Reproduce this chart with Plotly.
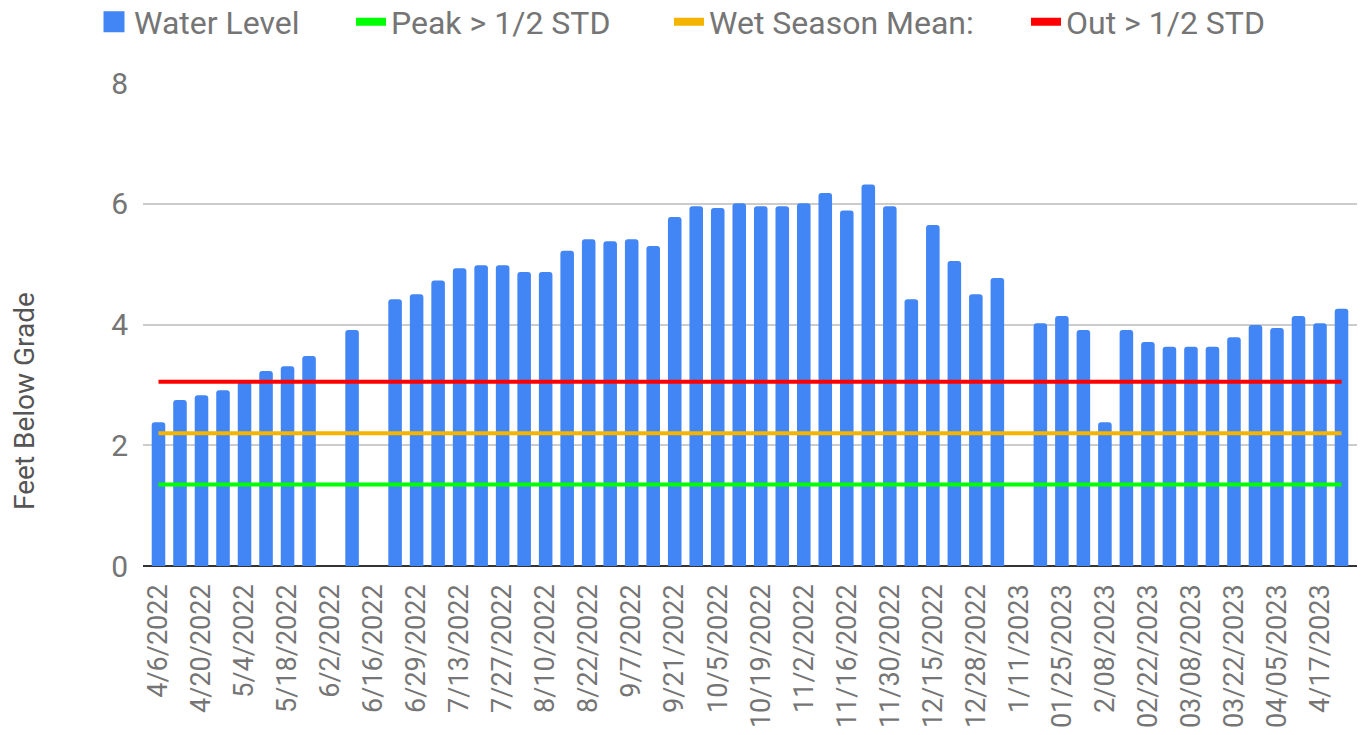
import plotly.graph_objects as go

categories = [
    "4/6/2022", "4/13/2022", "4/20/2022", "4/27/2022", "5/4/2022", "5/11/2022",
    "5/18/2022", "5/25/2022", "6/2/2022", "6/9/2022", "6/16/2022", "6/22/2022",
    "6/29/2022", "7/6/2022", "7/13/2022", "7/20/2022", "7/27/2022", "8/3/2022",
    "8/10/2022", "8/16/2022", "8/22/2022", "8/31/2022", "9/7/2022", "9/14/2022",
    "9/21/2022", "9/28/2022", "10/5/2022", "10/12/2022", "10/19/2022", "10/26/2022",
    "11/2/2022", "11/9/2022", "11/16/2022", "11/23/2022", "11/30/2022", "12/7/2022",
    "12/15/2022", "12/21/2022", "12/28/2022", "1/4/2023", "1/11/2023", "1/18/2023",
    "01/25/2023", "2/01/2023", "2/08/2023", "2/15/2023", "02/22/2023", "03/01/2023",
    "03/08/2023", "03/15/2023", "03/22/2023", "03/29/2023", "04/05/2023", "04/12/2023",
    "4/17/2023", "4/24/2023",
]

water_level = [
    2.38, 2.75, 2.83, 2.91, 3.06, 3.23, 3.31, 3.48, None, 3.91, None, 4.42,
    4.50, 4.73, 4.93, 4.98, 4.98, 4.87, 4.87, 5.22, 5.41, 5.38, 5.41, 5.30,
    5.78, 5.96, 5.93, 6.01, 5.96, 5.96, 6.01, 6.18, 5.89, 6.32, 5.96, 4.42,
    5.65, 5.05, 4.50, 4.77, None, 4.02, 4.14, 3.91, 2.38, 3.91, 3.71, 3.63,
    3.63, 3.63, 3.79, 3.99, 3.94, 4.14, 4.02, 4.26,
]

peak_half_std = 1.35
wet_season_mean = 2.20
out_half_std = 3.05

tick_labels = categories[::2]
y_ticks = [0, 2, 4, 6, 8]

BLUE = "#4285f4"
GREEN = "#00ff00"
ORANGE = "#f4b400"
RED = "#ff0000"
GRAY = "#757575"

n = len(categories)
fig = go.Figure()
fig.add_trace(go.Bar(
    x=categories, y=water_level, name="Water Level", showlegend=False,
    marker=dict(color=BLUE, line=dict(width=0)),
))
fig.add_trace(go.Scatter(
    x=categories, y=[peak_half_std] * n, name="Peak > 1/2 STD", showlegend=False,
    mode="lines", line=dict(color=GREEN, width=4),
))
fig.add_trace(go.Scatter(
    x=categories, y=[wet_season_mean] * n, name="Wet Season Mean:", showlegend=False,
    mode="lines", line=dict(color=ORANGE, width=4),
))
fig.add_trace(go.Scatter(
    x=categories, y=[out_half_std] * n, name="Out > 1/2 STD", showlegend=False,
    mode="lines", line=dict(color=RED, width=4),
))

# legend entries (one legend box each, to reproduce the spacing)
fig.add_trace(go.Scatter(
    x=[None], y=[None], name="Water Level", mode="markers", legend="legend",
    marker=dict(symbol="square", size=16, color=BLUE, line=dict(color=BLUE, width=5)),
))
fig.add_trace(go.Scatter(
    x=[None], y=[None], name="Peak > 1/2 STD", mode="lines", legend="legend2",
    line=dict(color=GREEN, width=8),
))
fig.add_trace(go.Scatter(
    x=[None], y=[None], name="Wet Season Mean:", mode="lines", legend="legend3",
    line=dict(color=ORANGE, width=8),
))
fig.add_trace(go.Scatter(
    x=[None], y=[None], name="Out > 1/2 STD", mode="lines", legend="legend4",
    line=dict(color=RED, width=8),
))

font_family = "Roboto, Arial, sans-serif"
# the page body adds an 8px margin, so the figure is 8px smaller than the window
W, H = 1358, 727
L, R, T, B = 135, 9, 75, 169
PAD = 0.72  # empty space (in categories) at both ends of the x axis


def legend_at(px):
    return dict(
        orientation="h", xref="container", yref="container",
        x=px / W, xanchor="left", y=1 - 14 / H, yanchor="middle",
        font=dict(size=32, color=GRAY, family=font_family),
        itemwidth=30, itemsizing="trace", bgcolor="rgba(0,0,0,0)",
    )


fig.update_layout(
    width=W, height=H,
    paper_bgcolor="white", plot_bgcolor="white",
    margin=dict(l=L, r=R, t=T, b=B, autoexpand=False),
    bargap=0.37,
    barcornerradius=3,
    font=dict(family=font_family, color=GRAY),
    showlegend=True,
    legend=legend_at(86),
    legend2=legend_at(343),
    legend3=legend_at(661),
    legend4=legend_at(1018),
    xaxis=dict(
        type="category", tickmode="array", tickvals=tick_labels, ticktext=tick_labels,
        tickangle=-90, tickfont=dict(size=27, color=GRAY), ticklabelstandoff=12,
        showgrid=False, showline=False, ticks="", range=[-PAD, n - 1 + PAD],
        automargin=False,
    ),
    yaxis=dict(
        range=[0, 8], tickvals=y_ticks, tickfont=dict(size=30, color=GRAY),
        showgrid=True, gridcolor="#cccccc", gridwidth=2,
        zeroline=True, zerolinecolor="#333333", zerolinewidth=2,
        ticks="", ticklabelstandoff=14, automargin=False,
    ),
    annotations=[dict(
        text="Feet Below Grade", textangle=-90, showarrow=False,
        xref="paper", yref="paper",
        x=(16 - L) / (W - L - R), y=(H - B - 393) / (H - T - B),
        xanchor="center", yanchor="middle",
        font=dict(size=28, color="#555555", family=font_family),
    )],
)

fig.write_html("out.html")
